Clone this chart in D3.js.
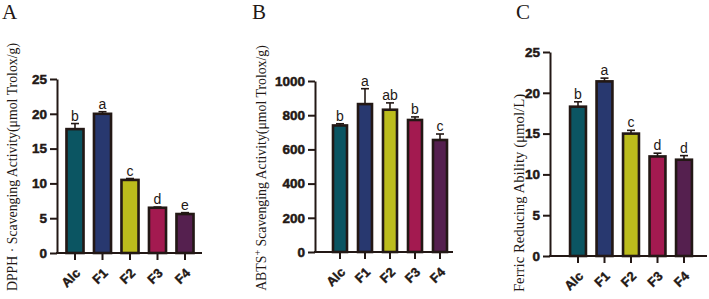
<!DOCTYPE html>
<html><head><meta charset="utf-8">
<script src="https://cdn.jsdelivr.net/npm/d3@7/dist/d3.min.js"></script>
<style>body{margin:0;background:#fff}svg{display:block}</style>
</head><body>
<svg id="c" width="709" height="299"></svg>
<script>
const categories = ["Alc","F1","F2","F3","F4"];
const colors = ["#0b5562","#28386f","#bcbc1c","#a31a50","#55204f"];

const dpphValues = [17.8, 20.0, 10.5, 6.5, 5.6];
const dpphErr    = [0.8, 0.3, 0.2, 0.1, 0.2];
const dpphLetters = ["b","a","c","d","e"];
const dpphTicks = [0,5,10,15,20,25];

const abtsValues = [740, 865, 832, 772, 655];
const abtsErr    = [10, 90, 40, 18, 35];
const abtsLetters = ["b","a","ab","b","c"];
const abtsTicks = [0,200,400,600,800,1000];

const fraValues = [18.3, 21.4, 15.0, 12.2, 11.8];
const fraErr    = [0.6, 0.4, 0.4, 0.4, 0.5];
const fraLetters = ["b","a","c","d","d"];
const fraTicks = [0,5,10,15,20,25];

const svg = d3.select("#c");
const ink = "#231815";
const sans = "Liberation Sans, Arial, sans-serif";
const serif = "Liberation Serif, Times New Roman, serif";

function panel(cfg){
  const g = svg.append("g");
  const y = d3.scaleLinear().domain([0, cfg.max]).range([cfg.y0, cfg.y1]);
  const x = d3.scaleBand().domain(categories).range([cfg.bx0, cfg.bx1]).paddingInner(cfg.pad).paddingOuter(cfg.pad/2);
  g.selectAll("rect.bar").data(categories).enter().append("rect")
    .attr("x", d => x(d)).attr("width", x.bandwidth())
    .attr("y", (d,i) => y(cfg.values[i]))
    .attr("height", (d,i) => y(0) - y(cfg.values[i]))
    .attr("fill", (d,i) => colors[i]).attr("stroke", ink).attr("stroke-width", 2.6);
  categories.forEach((d,i) => {
    const cx = x(d) + x.bandwidth()/2;
    const top = y(cfg.values[i] + cfg.err[i]);
    g.append("line").attr("x1",cx).attr("x2",cx).attr("y1",y(cfg.values[i])).attr("y2",top).attr("stroke",ink).attr("stroke-width",1.6);
    g.append("line").attr("x1",cx-4).attr("x2",cx+4).attr("y1",top).attr("y2",top).attr("stroke",ink).attr("stroke-width",1.6);
    g.append("text").attr("x",cx).attr("y",top-3).attr("text-anchor","middle")
      .attr("font-family",sans).attr("font-size",14).attr("fill",ink)
      .text(cfg.letters[i]);
  });
  const ya = g.append("g").attr("transform",`translate(${cfg.ax},0)`)
    .call(d3.axisLeft(y).tickValues(cfg.ticks).tickFormat(d3.format("d")).tickSize(7).tickPadding(3).tickSizeOuter(0));
  ya.attr("font-family",sans).attr("font-size",13.5);
  ya.select(".domain").attr("stroke",ink).attr("stroke-width",2);
  ya.selectAll(".tick line").attr("stroke",ink).attr("stroke-width",2);
  ya.selectAll(".tick text").attr("font-weight","bold").attr("fill",ink)
    .attr("stroke",ink).attr("stroke-width",0.5);
  const xa = g.append("g").attr("transform",`translate(0,${cfg.y0})`)
    .call(d3.axisBottom(x).tickSize(7).tickSizeOuter(0));
  xa.attr("font-family",sans).attr("font-size",13);
  xa.select(".domain").remove();
  g.append("line").attr("x1",cfg.ax-1).attr("x2",cfg.axEnd).attr("y1",cfg.y0).attr("y2",cfg.y0).attr("stroke",ink).attr("stroke-width",2);
  xa.selectAll(".tick line").attr("stroke",ink).attr("stroke-width",2);
  xa.selectAll(".tick text").attr("font-weight","bold").attr("fill",ink)
    .attr("stroke",ink).attr("stroke-width",0.4)
    .attr("text-anchor","end").attr("dy",0).attr("y",0)
    .attr("transform","translate(6,21) rotate(-45)");
  g.append("text").attr("x",cfg.tx).attr("y",19).attr("font-family",serif)
    .attr("font-size",21).attr("fill",ink).text(cfg.title);
  const lab = g.append("text").attr("transform",`translate(${cfg.lx},${cfg.ly}) rotate(-90)`)
    .attr("text-anchor","middle").attr("font-family",serif)
    .attr("font-size",cfg.lfs).attr("fill",ink);
  cfg.label(lab);
}

panel({values:dpphValues, err:dpphErr, letters:dpphLetters, ticks:dpphTicks, max:25,
  y0:253, y1:79, bx0:61.25, bx1:198.75, pad:0.38, ax:57, axEnd:202,
  title:"A", tx:2, lx:17, ly:167, lfs:13.8,
  label: t => t.text("DPPH · Scavenging Activity(μmol Trolox/g)")});

panel({values:abtsValues, err:abtsErr, letters:abtsLetters, ticks:abtsTicks, max:1000,
  y0:252, y1:81, bx0:327.5, bx1:452.5, pad:0.44, ax:315, axEnd:453,
  title:"B", tx:252, lx:266, ly:168, lfs:13.8,
  label: t => { t.append("tspan").text("ABTS");
                t.append("tspan").attr("baseline-shift","super").attr("font-size",10).text("+");
                t.append("tspan").text(" Scavenging Activity(μmol Trolox/g)"); }});

panel({values:fraValues, err:fraErr, letters:fraLetters, ticks:fraTicks, max:25,
  y0:256, y1:52, bx0:564.75, bx1:697.25, pad:0.4, ax:550, axEnd:707,
  title:"C", tx:516, lx:524, ly:193, lfs:14.8,
  label: t => t.text("Ferric Reducing Ability (μmol/L)")});
</script>
</body></html>
